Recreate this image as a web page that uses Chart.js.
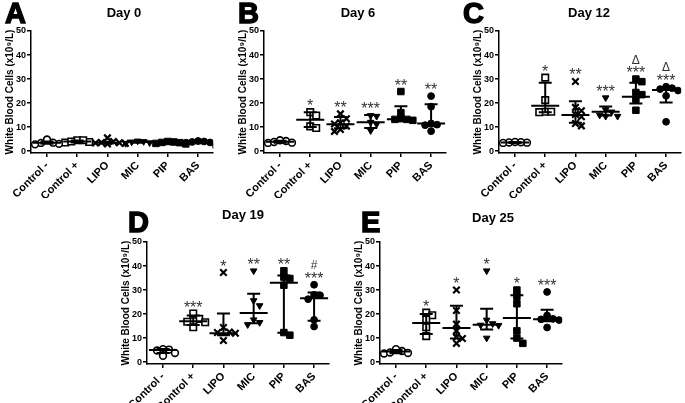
<!DOCTYPE html>
<html>
<head>
<meta charset="utf-8">
<script src="https://cdn.jsdelivr.net/npm/chart.js@4.4.1/dist/chart.umd.min.js"></script>
<style>
  body { margin: 0; width: 685px; height: 403px; overflow: hidden; background: #fff; position: relative; }
  canvas { position: absolute; }
</style>
</head>
<body>
<canvas id="cA" width="220" height="198" style="left:0px;top:0px"></canvas>
<canvas id="cB" width="220" height="198" style="left:233px;top:0px"></canvas>
<canvas id="cC" width="228" height="198" style="left:460px;top:0px"></canvas>
<canvas id="cD" width="220" height="203" style="left:116px;top:200px"></canvas>
<canvas id="cE" width="220" height="203" style="left:349px;top:200px"></canvas>
<script>
// Gruppen und Achsenbeschriftung
const groups = ["Control -", "Control +", "LIPO", "MIC", "PIP", "BAS"];
const yTicks = [0, 10, 20, 30, 40, 50];
const yTitle = "White Blood Cells (x10⁹/L)";

// Tag 0
const day0 = [[3.4, 2.8, 3.0, 3.5, 4.8], [4.5, 3.8, 3.6, 4.0, 4.5], [3.5, 3.2, 4.0, 5.5, 3.0, 3.6, 3.4],
              [3.8, 4.0, 3.5, 4.2, 3.2], [3.5, 3.8, 3.0, 4.0, 3.6, 3.2], [3.8, 4.0, 2.0, 3.5, 4.2, 3.6]];
const day0Median = [3.5, 4.0, 3.5, 3.8, 3.6, 3.7];
const day0Low = [3.0, 3.6, 3.2, 3.5, 3.2, 3.3];
const day0High = [4.0, 4.4, 3.9, 4.1, 3.9, 4.0];
const day0Marks = ["", "", "", "", "", ""];

// Tag 6
const day6 = [[4.2, 3.4, 3.5, 3.8, 4.5], [16.2, 14.8, 10.3, 9.6], [15.5, 13.5, 11.8, 11.3, 10.4, 9.0, 8.2],
              [14.8, 14.5, 12.0, 11.2, 8.5], [24.8, 16.0, 13.5, 13.2, 13.2, 12.8], [22.9, 18.5, 11.5, 11.0, 10.8, 8.3]];
const day6Median = [3.9, 13.0, 11.2, 12.0, 13.3, 11.5];
const day6Low = [3.5, 10.0, 9.5, 9.6, 12.6, 10.3];
const day6High = [4.3, 16.2, 14.2, 15.0, 18.7, 19.5];
const day6Marks = ["", "*", "**", "***", "**", "**"];

// Tag 12
const day12 = [[3.6, 3.4, 3.5, 3.8, 3.7], [30.6, 21.2, 16.4, 16.4, 16.2], [29.0, 18.2, 16.8, 15.2, 14.3, 11.5, 10.5],
               [22.2, 17.2, 16.3, 15.0, 14.5, 14.5], [30.0, 28.9, 24.4, 23.5, 21.6, 17.0], [26.8, 26.2, 25.8, 25.2, 23.0, 12.2]];
const day12Median = [3.6, 18.9, 15.0, 16.4, 22.6, 25.4];
const day12Low = [3.4, 16.2, 11.8, 14.8, 19.8, 20.2];
const day12High = [3.8, 28.4, 20.8, 18.6, 28.4, 26.6];
const day12Marks = ["", "*", "**", "***", "Δ\n***", "Δ\n***"];

// Tag 19
const day19 = [[5.2, 2.6, 3.8, 4.8, 5.4], [20.2, 18.0, 17.0, 16.8, 16.6, 14.5], [37.3, 14.4, 12.5, 12.3, 12.0, 9.0],
               [38.0, 25.6, 23.5, 17.6, 16.5, 15.6], [38.0, 35.4, 34.8, 32.0, 12.3, 11.2], [32.2, 28.0, 27.8, 26.2, 17.6, 14.8]];
const day19Median = [5.0, 17.0, 12.0, 20.4, 33.0, 26.6];
const day19Low = [3.8, 15.4, 11.2, 16.2, 12.2, 17.2];
const day19High = [5.4, 19.4, 20.2, 28.5, 36.0, 29.0];
const day19Marks = ["", "***", "*", "**", "**", "#\n***"];

// Tag 25
const day25 = [[4.6, 3.8, 3.6, 4.0, 5.4], [20.6, 19.5, 17.8, 14.5, 10.8], [30.0, 21.5, 15.8, 13.0, 10.4, 9.8, 7.8],
               [38.0, 17.5, 16.0, 15.4, 15.3, 10.0], [30.0, 27.4, 24.3, 13.0, 10.0, 7.8], [29.2, 19.4, 18.0, 17.8, 17.5, 14.4]];
const day25Median = [4.4, 16.3, 14.2, 15.5, 18.4, 17.8];
const day25Low = [3.7, 11.7, 9.8, 13.6, 9.8, 17.0];
const day25High = [5.0, 20.0, 23.5, 22.2, 27.8, 21.8];
const day25Marks = ["", "*", "*", "*", "*", "***"];

const FONT = "'Liberation Sans', Arial, sans-serif";
Chart.defaults.font.family = FONT;
Chart.defaults.color = "#000";

// Markerstil je Gruppe
const styles = [
  { style: "circle", r: 3.4, fill: "#fff", bw: 1.6, rot: 0 },
  { style: "rect", r: 4.6, fill: "#fff", bw: 1.6, rot: 0 },
  { style: "crossRot", r: 4.6, fill: "#000", bw: 2.2, rot: 0 },
  { style: "triangle", r: 3.8, fill: "#000", bw: 1, rot: 180 },
  { style: "rect", r: 4.6, fill: "#000", bw: 1, rot: 0 },
  { style: "circle", r: 3.4, fill: "#000", bw: 1, rot: 0 }
];

// Pixel pro Einheit (Achsenlänge 183px / 6.03, 122px / 50.8)
const pxPerX = 183 / 6.03;
const pxPerY = 122 / 50.8;

// einfache Beeswarm-Anordnung: nahe Werte werden seitlich versetzt
function swarm(vals) {
  const step = 6 / pxPerX, near = 6 / pxPerY;
  const placed = [];
  const offs = new Array(vals.length).fill(0);
  const order = vals.map((v, i) => i).sort((a, b) => vals[b] - vals[a]);
  order.forEach(i => {
    for (let k = 0; k < 14; k++) {
      const o = (k % 2 ? 1 : -1) * Math.ceil(k / 2) * step;
      const hit = placed.some(p => Math.abs(p.o - o) < step * 0.9 && Math.abs(p.v - vals[i]) < near);
      if (!hit) { offs[i] = o; placed.push({ o: o, v: vals[i] }); break; }
    }
  });
  return offs;
}

const panels = [
  { id: "cA", letter: "A", title: "Day 0", left: 0, top: 0, padLeft: 0, padTop: 31, xAxisH: 45,
    letterX: 5, letterY: 23, titleX: 124, titleY: 13,
    values: day0, median: day0Median, low: day0Low, high: day0High, marks: day0Marks },
  { id: "cB", letter: "B", title: "Day 6", left: 233, top: 0, padLeft: 0, padTop: 31, xAxisH: 45,
    letterX: 238, letterY: 23, titleX: 358, titleY: 13,
    values: day6, median: day6Median, low: day6Low, high: day6High, marks: day6Marks },
  { id: "cC", letter: "C", title: "Day 12", left: 460, top: 0, padLeft: 8, padTop: 31, xAxisH: 45,
    letterX: 463, letterY: 23, titleX: 589, titleY: 13,
    values: day12, median: day12Median, low: day12Low, high: day12High, marks: day12Marks },
  { id: "cD", letter: "D", title: "Day 19", left: 116, top: 200, padLeft: 0, padTop: 42, xAxisH: 39,
    letterX: 128, letterY: 232, titleX: 243, titleY: 215,
    values: day19, median: day19Median, low: day19Low, high: day19High, marks: day19Marks },
  { id: "cE", letter: "E", title: "Day 25", left: 349, top: 200, padLeft: 0, padTop: 42, xAxisH: 39,
    letterX: 361, letterY: 232, titleX: 493, titleY: 218,
    values: day25, median: day25Median, low: day25Low, high: day25High, marks: day25Marks }
];

function makePanel(p) {
  const datasets = groups.map((g, i) => {
    const offs = swarm(p.values[i]);
    const st = styles[i];
    return {
      label: g,
      data: p.values[i].map((v, j) => ({ x: i + offs[j], y: v })),
      pointStyle: st.style,
      pointRadius: st.r,
      pointRotation: st.rot,
      pointBackgroundColor: st.fill,
      pointBorderColor: "#000",
      pointBorderWidth: st.bw,
      showLine: false
    };
  });

  // Median-Linien, Fehlerbalken, Signifikanzzeichen, Buchstabe und Titel
  const panelPlugin = {
    id: "panelExtras",
    afterDatasetsDraw(chart) {
      const { ctx, scales: { x, y } } = chart;
      ctx.save();
      ctx.strokeStyle = "#000";
      ctx.lineWidth = 2;
      groups.forEach((g, i) => {
        const cx = x.getPixelForValue(i);
        const yc = y.getPixelForValue(p.median[i]);
        const yl = y.getPixelForValue(p.low[i]);
        const yh = y.getPixelForValue(p.high[i]);
        ctx.beginPath();
        ctx.moveTo(cx - 14, yc); ctx.lineTo(cx + 14, yc);
        ctx.moveTo(cx, yl); ctx.lineTo(cx, yh);
        ctx.moveTo(cx - 6.5, yl); ctx.lineTo(cx + 6.5, yl);
        ctx.moveTo(cx - 6.5, yh); ctx.lineTo(cx + 6.5, yh);
        ctx.stroke();

        if (!p.marks[i]) return;
        const top = Math.max(Math.max(...p.values[i]), p.high[i]);
        let center = y.getPixelForValue(top) - 10;
        const lines = p.marks[i].split("\n").reverse();
        ctx.fillStyle = "#333";
        ctx.textAlign = "center";
        ctx.textBaseline = "alphabetic";
        lines.forEach(line => {
          ctx.font = (line.includes("*") ? "16px " : "12px ") + FONT;
          const m = ctx.measureText(line);
          const base = center + (m.actualBoundingBoxAscent - m.actualBoundingBoxDescent) / 2;
          ctx.fillText(line, cx, base);
          center -= 10;
        });
      });
      ctx.restore();
    },
    afterDraw(chart) {
      const ctx = chart.ctx;
      ctx.save();
      ctx.fillStyle = "#000";
      ctx.strokeStyle = "#000";
      ctx.lineWidth = 1.4;
      ctx.textAlign = "left";
      ctx.textBaseline = "alphabetic";
      ctx.font = "bold 29px " + FONT;
      ctx.fillText(p.letter, p.letterX - p.left, p.letterY - p.top);
      ctx.strokeText(p.letter, p.letterX - p.left, p.letterY - p.top);
      ctx.textAlign = "center";
      ctx.textBaseline = "middle";
      ctx.font = "bold 13px " + FONT;
      ctx.fillText(p.title, p.titleX - p.left, p.titleY - p.top);
      ctx.restore();
    }
  };

  new Chart(document.getElementById(p.id), {
    type: "scatter",
    data: { datasets: datasets },
    options: {
      responsive: false,
      animation: false,
      layout: { padding: { left: p.padLeft, top: p.padTop, right: 6, bottom: 0 } },
      plugins: { legend: { display: false }, tooltip: { enabled: false } },
      scales: {
        x: {
          type: "linear",
          min: -0.53,
          max: 5.5,
          afterBuildTicks: s => { s.ticks = groups.map((g, i) => ({ value: i })); },
          afterFit: s => { s.height = p.xAxisH; s.paddingLeft = 0; s.paddingRight = 0; },
          ticks: {
            autoSkip: false, minRotation: 45, maxRotation: 45, padding: 2, color: "#000",
            font: { size: 11, weight: "bold" },
            callback: v => groups[v]
          },
          grid: { drawOnChartArea: false, tickLength: 4, color: "#000", lineWidth: 1.5 },
          border: { color: "#000", width: 1.5 }
        },
        y: {
          min: -0.8,
          max: 50,
          afterBuildTicks: s => { s.ticks = yTicks.map(v => ({ value: v })); },
          afterFit: s => { s.width = 31; },
          ticks: { padding: 1, color: "#000", font: { size: 9, weight: "bold" } },
          grid: { drawOnChartArea: false, tickLength: 4, color: "#000", lineWidth: 1.5 },
          border: { color: "#000", width: 1.5 },
          title: { display: true, text: yTitle, color: "#000", font: { size: 10, weight: "bold" }, padding: { top: 4, bottom: 0 } }
        }
      }
    },
    plugins: [panelPlugin]
  });
}

panels.forEach(makePanel);
</script>
</body>
</html>
